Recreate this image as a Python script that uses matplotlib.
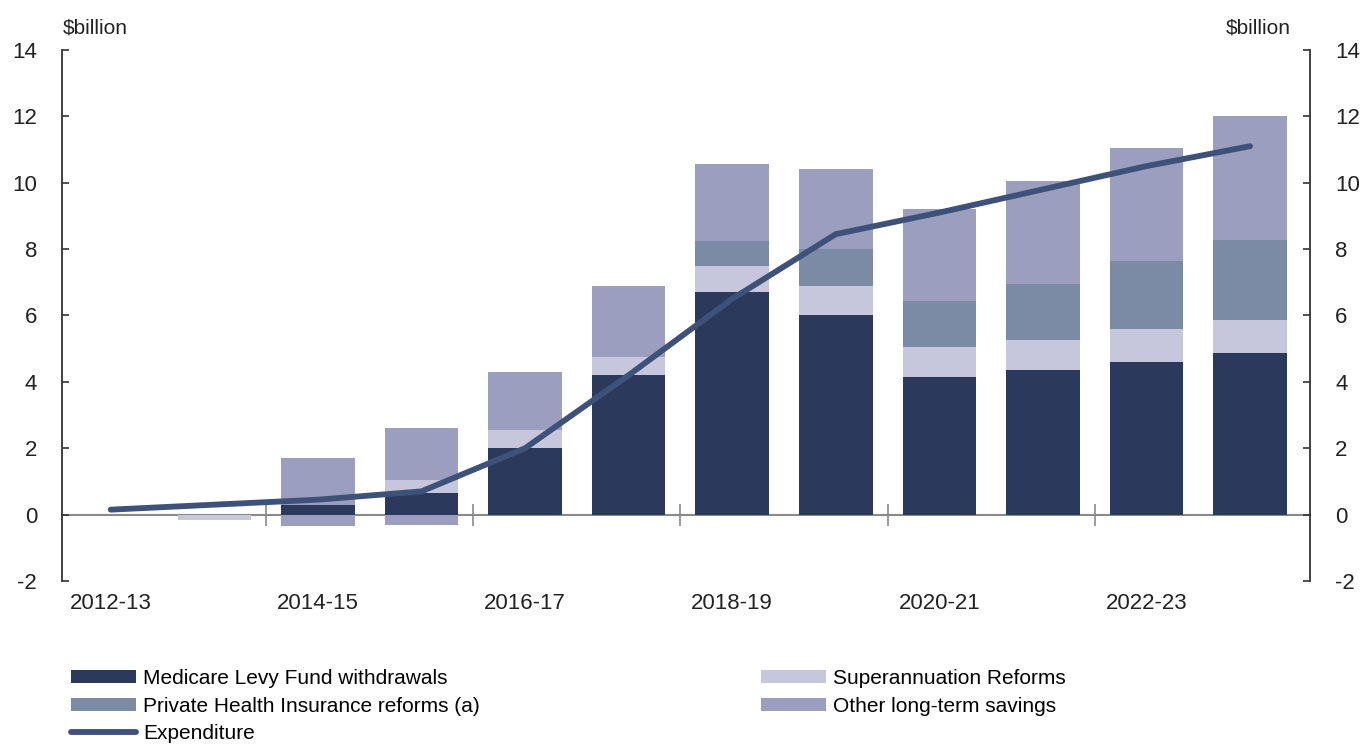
import matplotlib.pyplot as plt
import numpy as np

plt.rcParams['font.family'] = ['Liberation Sans', 'DejaVu Sans']
plt.rcParams['axes.unicode_minus'] = False

# data ($billion)
years = ['2012-13', '2013-14', '2014-15', '2015-16', '2016-17', '2017-18',
         '2018-19', '2019-20', '2020-21', '2021-22', '2022-23', '2023-24']
medicare = [0.0, 0.0, 0.3, 0.65, 2.0, 4.2, 6.7, 6.0, 4.15, 4.35, 4.6, 4.87]
super_ref = [0.0, -0.15, 0.0, 0.4, 0.55, 0.55, 0.8, 0.9, 0.9, 0.9, 1.0, 1.0]
phi = [0.0, 0.0, 0.0, 0.0, 0.0, 0.0, 0.75, 1.1, 1.4, 1.7, 2.05, 2.4]
other = [0.0, 0.0, 1.4, 1.55, 1.75, 2.15, 2.3, 2.4, 2.75, 3.1, 3.4, 3.75]
other_neg = [0.0, 0.0, -0.35, -0.3, 0.0, 0.0, 0.0, 0.0, 0.0, 0.0, 0.0, 0.0]
expenditure = [0.15, 0.3, 0.45, 0.7, 2.0, 4.2, 6.5, 8.45, 9.1, 9.8, 10.5, 11.1]

c_med = '#2b3a5c'
c_sup = '#c6c7dc'
c_phi = '#7b8ba6'
c_oth = '#9c9ec0'
c_exp = '#3e5279'

fig = plt.figure(figsize=(13.69, 7.49), dpi=100)
ax = fig.add_axes([0.0453, 0.2243, 0.9117, 0.7090])

x = np.arange(len(years))
w = 0.71
pos = np.zeros(len(years))
neg = np.zeros(len(years))
handles = {}
for vals, col, lab in [(medicare, c_med, 'Medicare Levy Fund withdrawals'),
                       (super_ref, c_sup, 'Superannuation Reforms'),
                       (phi, c_phi, 'Private Health Insurance reforms (a)'),
                       (other, c_oth, 'Other long-term savings')]:
    v = np.array(vals)
    base = np.where(v >= 0, pos, neg)
    handles[lab] = ax.bar(x, v, w, bottom=base, color=col, label=lab, zorder=2)
    pos = pos + np.clip(v, 0, None)
    neg = neg + np.clip(v, None, 0)
ax.bar(x, other_neg, w, bottom=neg, color=c_oth, zorder=2)

handles['Expenditure'], = ax.plot(x, expenditure, color=c_exp, lw=4.2,
                                  solid_capstyle='round', zorder=3)

ax.set_xlim(-0.47, 11.58)
ax.set_ylim(-2, 14)
ax.set_yticks(range(-2, 15, 2))
ax.set_xticks(x[::2])
ax.set_xticklabels(years[::2])
ax.tick_params(axis='x', length=0, pad=9, labelsize=16, colors='#222222')
ax.tick_params(axis='y', direction='in', length=5, width=1.2, labelsize=16,
               colors='#333333', labelcolor='#222222', pad=18)
for s in ['top', 'bottom']:
    ax.spines[s].set_visible(False)
for s in ['left', 'right']:
    ax.spines[s].set_color('#333333')
    ax.spines[s].set_linewidth(1.3)

# zero line with tick marks between the labelled years
zax = ax.secondary_xaxis(2 / 16)
zax.set_xticks(x[1:-1:2] + 0.5)
zax.tick_params(direction='inout', length=16, width=1.2, colors='#8a8a8a',
                labelbottom=False, labeltop=False)
zax.spines['bottom'].set_color('#8a8a8a')
zax.spines['bottom'].set_linewidth(1.5)

ax2 = ax.twinx()
ax2.set_ylim(-2, 14)
ax2.set_yticks(range(-2, 15, 2))
ax2.tick_params(axis='y', direction='in', length=5, width=1.2, labelsize=16,
                colors='#333333', labelcolor='#222222', pad=18)
for s in ['top', 'bottom', 'left', 'right']:
    ax2.spines[s].set_visible(False)

fig.text(0.046, 0.962, '$billion', fontsize=15, color='#222222', va='center', ha='left')
fig.text(0.943, 0.962, '$billion', fontsize=15, color='#222222', va='center', ha='right')

order = ['Medicare Levy Fund withdrawals', 'Private Health Insurance reforms (a)',
         'Expenditure', 'Superannuation Reforms', 'Other long-term savings']
fig.legend([handles[k] for k in order], order, ncol=2,
           loc='upper left', bbox_to_anchor=(0.052, 0.107), frameon=False,
           fontsize=15, handlelength=3.1, handleheight=0.6, handletextpad=0.35,
           labelspacing=0.42, columnspacing=13.5, borderpad=0, borderaxespad=0)

fig.savefig('out.png', dpi=100)
